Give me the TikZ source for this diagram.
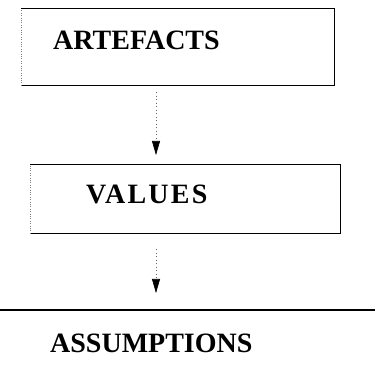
\documentclass[tikz,border=0pt]{standalone}
\usepackage{fontspec}
\setmainfont{Liberation Serif}
\usetikzlibrary{arrows.meta}
\begin{document}
\begin{tikzpicture}[x=1pt,y=1pt]
    \tikzstyle{layer}=[rectangle, draw=none, inner sep=0pt]
    \tikzstyle{caption}=[anchor=west, inner sep=0pt, font=\bfseries\fontsize{28}{32}\selectfont]
    \tikzstyle{link}=[black!60, line width=0.6pt, dash pattern=on 1pt off 2.5pt,
                      -{Triangle[length=14pt,width=8pt,black]}]
    \useasboundingbox (0,0) rectangle (375,377);

    \node[layer, minimum width=313pt, minimum height=76pt] (art) at (177.5,330) {};
    \node[layer, minimum width=310pt, minimum height=68pt] (val) at (185,178) {};

    \node[caption] (arttxt) at (53,337) {ARTEFACTS};
    \node[caption] (valtxt) at (86,183) {\addfontfeature{LetterSpace=8}VALUES};
    \node[caption] (asstxt) at (50,34)  {ASSUMPTIONS};

    % boxes, left side only faintly printed
    \draw[line width=1.2pt] (art.north west) -- (art.north east)
                          -- (art.south east) -- (art.south west);
    \draw[black!50, dotted] (art.south west) -- (art.north west);
    \draw[line width=1.2pt] (val.north west) -- (val.north east)
                          -- (val.south east) -- (val.south west);
    \draw[black!50, dotted] (val.south west) -- (val.north west);

    % arrows down
    \coordinate (tip1) at (156,222);
    \coordinate (tip2) at (156,84);
    \draw[link, shorten <=7pt] (art.south -| tip1) -- (tip1);
    \draw[link, shorten <=16pt] (val.south -| tip2) -- (tip2);

    % rule above the bottom layer
    \coordinate (rulel) at (0,67);
    \coordinate (ruler) at (375,67);
    \draw[line width=1.2pt] (rulel) -- (ruler);

\end{tikzpicture}
\end{document}
